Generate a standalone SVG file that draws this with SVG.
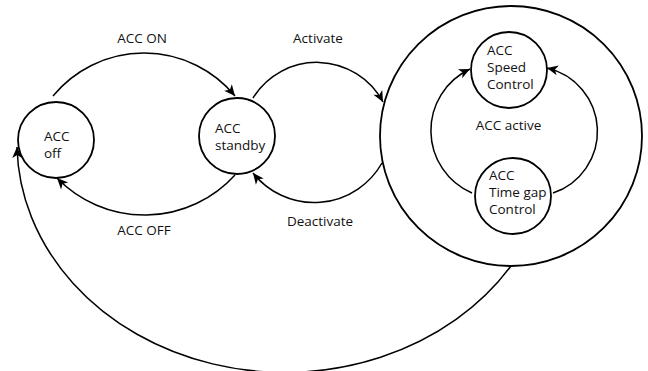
<svg xmlns="http://www.w3.org/2000/svg" width="648" height="371" viewBox="0 0 648 371">
<style>
.node{fill:none;stroke:#000;stroke-width:1.8}
.edge{fill:none;stroke:#000;stroke-width:1.5;marker-end:url(#arr)}
text{font-family:"Open Sans","DejaVu Sans",sans-serif;font-size:13.5px;fill:#111}
.c{text-anchor:middle}
</style>
<defs>
<marker id="arr" viewBox="-12 -6 13 12" markerUnits="userSpaceOnUse" markerWidth="13" markerHeight="12" refX="0" refY="0" orient="auto">
<path d="M0,0 L-11,-5 L-8,0 L-11,5 Z" fill="#000"/>
</marker>
</defs>
<rect width="648" height="371" fill="#fff"/>
<g id="acc-active">
<ellipse class="node" cx="511" cy="136" rx="131" ry="130"/>
<text class="c" x="508.5" y="130">ACC active</text>
</g>
<g id="acc-off">
<circle class="node" cx="56" cy="140" r="38"/>
<text x="44" y="141">ACC</text>
<text x="44" y="158">off</text>
</g>
<g id="acc-standby">
<circle class="node" cx="237" cy="136" r="38"/>
<text x="215" y="133">ACC</text>
<text x="215" y="150">standby</text>
</g>
<g id="acc-speed">
<circle class="node" cx="509" cy="70" r="38"/>
<text x="487" y="55">ACC</text>
<text x="487" y="72">Speed</text>
<text x="487" y="89">Control</text>
</g>
<g id="acc-timegap">
<circle class="node" cx="513" cy="196" r="38"/>
<text x="489" y="180">ACC</text>
<text x="489" y="197">Time gap</text>
<text x="489" y="214">Control</text>
</g>
<g id="connectors">
<path class="edge" d="M53,96 A118,118 0 0,1 235,96"/>
<text class="c" x="142" y="43">ACC ON</text>
<path class="edge" d="M253,98 A75,75 0 0,1 383,102"/>
<text class="c" x="318" y="43">Activate</text>
<path class="edge" d="M382,163 A78,78 0 0,1 253,173"/>
<text class="c" x="320" y="226">Deactivate</text>
<path class="edge" d="M235,175 A122,122 0 0,1 57,178"/>
<text class="c" x="144" y="235">ACC OFF</text>
<path class="edge" d="M511,266 A268,230 0 0,1 17,147"/>
<path class="edge" d="M472,193 A68,68 0 0,1 470,69"/>
<path class="edge" d="M553,193 A65,65 0 0,0 547,68"/>
</g>
</svg>
